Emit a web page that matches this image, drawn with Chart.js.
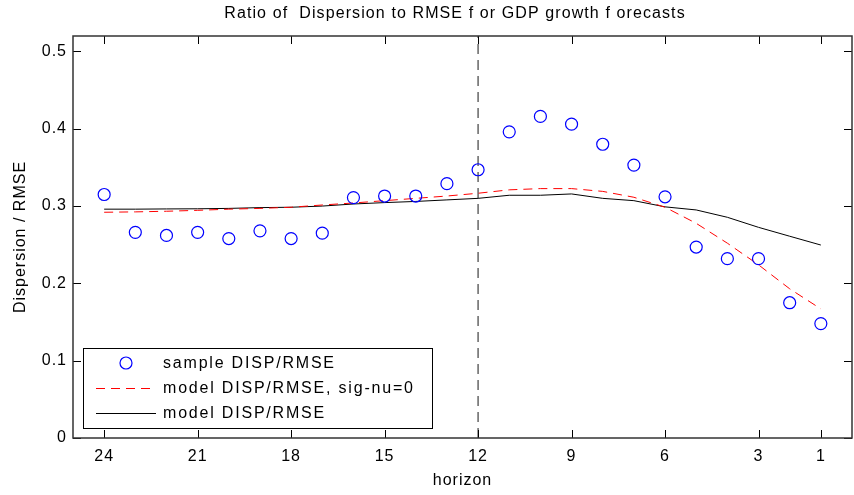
<!DOCTYPE html>
<html>
<head>
<meta charset="utf-8">
<script src="https://cdn.jsdelivr.net/npm/chart.js@4"></script>
<style>
  html, body { margin: 0; padding: 0; background: #fff; }
  #wrap { width: 854px; height: 495px; }
</style>
</head>
<body>
<div id="wrap"><canvas id="myChart"></canvas></div>
<script>
// forecast horizon (months), plotted right to left
const horizons = [24, 23, 22, 21, 20, 19, 18, 17, 16, 15, 14, 13, 12, 11, 10, 9, 8, 7, 6, 5, 4, 3, 2, 1];
const sampleRatio = [0.315, 0.266, 0.262, 0.266, 0.258, 0.268, 0.258, 0.265, 0.311, 0.313, 0.313, 0.329,
  0.347, 0.396, 0.416, 0.406, 0.380, 0.353, 0.312, 0.247, 0.232, 0.232, 0.175, 0.148];
const modelRatioNoNu = [0.292, 0.2925, 0.2933, 0.2945, 0.296, 0.297, 0.2985, 0.3014, 0.304, 0.307, 0.310, 0.313,
  0.3166, 0.321, 0.3226, 0.3226, 0.319, 0.3114, 0.2985, 0.2777, 0.252, 0.224, 0.193, 0.167];
const modelRatio = [0.296, 0.296, 0.2963, 0.2965, 0.297, 0.298, 0.2985, 0.300, 0.3027, 0.3045, 0.306, 0.308,
  0.310, 0.314, 0.314, 0.3157, 0.310, 0.307, 0.299, 0.295, 0.2855, 0.2725, 0.261, 0.2496];
const seriesLabels = ["sample DISP/RMSE", "model DISP/RMSE, sig-nu=0", "model DISP/RMSE"];
const xTicks = [24, 21, 18, 15, 12, 9, 6, 3, 1];
const yTicks = [0, 0.1, 0.2, 0.3, 0.4, 0.5];
const markerHorizon = 12;
const chartTitle = "Ratio of  Dispersion to RMSE f or GDP growth f orecasts";

const FONT = "'Liberation Sans', Arial, Helvetica, sans-serif";
const SPACING = "1px";

function pts(vals) {
  return horizons.map((h, i) => ({ x: h, y: vals[i] }));
}

// MATLAB-like box, inward ticks, title and legend
const matlabLook = {
  id: "matlabLook",
  beforeLayout(chart) { chart.ctx.letterSpacing = SPACING; },
  beforeDraw(chart) { chart.ctx.letterSpacing = SPACING; },
  afterDatasetsDraw(chart) {
    const ctx = chart.ctx;
    const a = chart.chartArea;
    const xs = chart.scales.x, ys = chart.scales.y;
    ctx.save();
    ctx.strokeStyle = "#000";
    ctx.lineWidth = 1;
    const tl = 8;
    ctx.beginPath();
    xTicks.forEach(v => {
      const px = Math.round(xs.getPixelForValue(v)) + 0.5;
      ctx.moveTo(px, a.bottom); ctx.lineTo(px, a.bottom - tl);
      ctx.moveTo(px, a.top); ctx.lineTo(px, a.top + tl);
    });
    yTicks.forEach(v => {
      const py = Math.round(ys.getPixelForValue(v)) + 0.5;
      ctx.moveTo(a.left, py); ctx.lineTo(a.left + tl, py);
      ctx.moveTo(a.right, py); ctx.lineTo(a.right - tl, py);
    });
    ctx.stroke();
    ctx.strokeStyle = "#333";
    ctx.lineWidth = 1.5;
    ctx.strokeRect(a.left, a.top, a.right - a.left, a.bottom - a.top);

    // legend box
    const lx = 83, ly = 348, lw = 349, lh = 80;
    ctx.fillStyle = "#fff";
    ctx.fillRect(lx, ly, lw, lh);
    ctx.strokeStyle = "#000";
    ctx.lineWidth = 1;
    ctx.strokeRect(lx + 0.5, ly + 0.5, lw, lh);
    ctx.font = "16px " + FONT;
    ctx.textBaseline = "middle";
    ctx.textAlign = "left";
    ctx.letterSpacing = "1.8px";
    chart.data.datasets.filter(d => d.label).forEach((d, i) => {
      const y = ly + 15 + i * 25;
      if (d.showLine === false) {
        ctx.beginPath();
        ctx.strokeStyle = d.borderColor;
        ctx.lineWidth = 1.2;
        ctx.arc(126, y, 6, 0, Math.PI * 2);
        ctx.stroke();
        ctx.lineWidth = 1;
      } else {
        ctx.beginPath();
        ctx.strokeStyle = d.borderColor;
        ctx.setLineDash(d.borderDash || []);
        ctx.moveTo(96, y + 0.5); ctx.lineTo(156, y + 0.5);
        ctx.stroke();
        ctx.setLineDash([]);
      }
      ctx.fillStyle = "#000";
      ctx.fillText(d.label, 163, y + 1);
    });

    // title
    ctx.font = "16px " + FONT;
    ctx.letterSpacing = "1.1px";
    ctx.textAlign = "center";
    ctx.fillText(chartTitle, 455, 14);
    ctx.restore();
  }
};

const ctx = document.getElementById("myChart");

new Chart(ctx, {
  type: "line",
  data: {
    datasets: [
      {
        label: seriesLabels[0],
        data: pts(sampleRatio),
        showLine: false,
        borderColor: "#0000ff",
        backgroundColor: "rgba(0,0,0,0)",
        pointRadius: 6,
        pointBorderWidth: 1.2,
        pointStyle: "circle",
      },
      {
        label: seriesLabels[1],
        data: pts(modelRatioNoNu),
        borderColor: "#ff0000",
        borderWidth: 1,
        borderDash: [9, 6],
        pointRadius: 0,
        tension: 0,
      },
      {
        label: seriesLabels[2],
        data: pts(modelRatio),
        borderColor: "#000000",
        borderWidth: 1,
        pointRadius: 0,
        tension: 0,
      },
      {
        label: "",
        data: [{ x: markerHorizon, y: 0 }, { x: markerHorizon, y: 0.52 }],
        borderColor: "#4d4d4d",
        borderWidth: 1.3,
        borderDash: [10, 6],
        pointRadius: 0,
      },
    ],
  },
  options: {
    responsive: true,
    maintainAspectRatio: false,
    animation: false,
    devicePixelRatio: 1,
    layout: { autoPadding: false, padding: { top: 36, right: 2, left: 0, bottom: 0 } },
    plugins: {
      legend: { display: false },
      title: { display: false },
      tooltip: { enabled: false },
    },
    scales: {
      x: {
        type: "linear",
        min: 0,
        max: 25,
        reverse: true,
        afterBuildTicks: s => { s.ticks = xTicks.map(v => ({ value: v })); },
        afterFit: s => { s.height = 57; s.paddingLeft = 0; s.paddingRight = 0; },
        grid: { display: false, drawTicks: false },
        border: { display: false },
        ticks: {
          autoSkip: false,
          maxRotation: 0,
          padding: 9,
          color: "#000",
          font: { family: FONT, size: 16 },
          callback: v => String(v),
        },
        title: {
          display: true,
          text: "horizon",
          color: "#000",
          font: { family: FONT, size: 16 },
          padding: { top: 0, bottom: 5 },
        },
      },
      y: {
        min: 0,
        max: 0.52,
        afterBuildTicks: s => { s.ticks = yTicks.map(v => ({ value: v })); },
        afterFit: s => { s.width = 73; s.paddingTop = 0; s.paddingBottom = 0; },
        grid: { display: false, drawTicks: false },
        border: { display: false },
        ticks: {
          padding: 6,
          color: "#000",
          font: { family: FONT, size: 16 },
          callback: v => String(v),
        },
        title: {
          display: true,
          text: "Dispersion / RMSE",
          color: "#000",
          font: { family: FONT, size: 16 },
          padding: { top: 11, bottom: 0 },
        },
      },
    },
  },
  plugins: [matlabLook],
});
</script>
</body>
</html>
